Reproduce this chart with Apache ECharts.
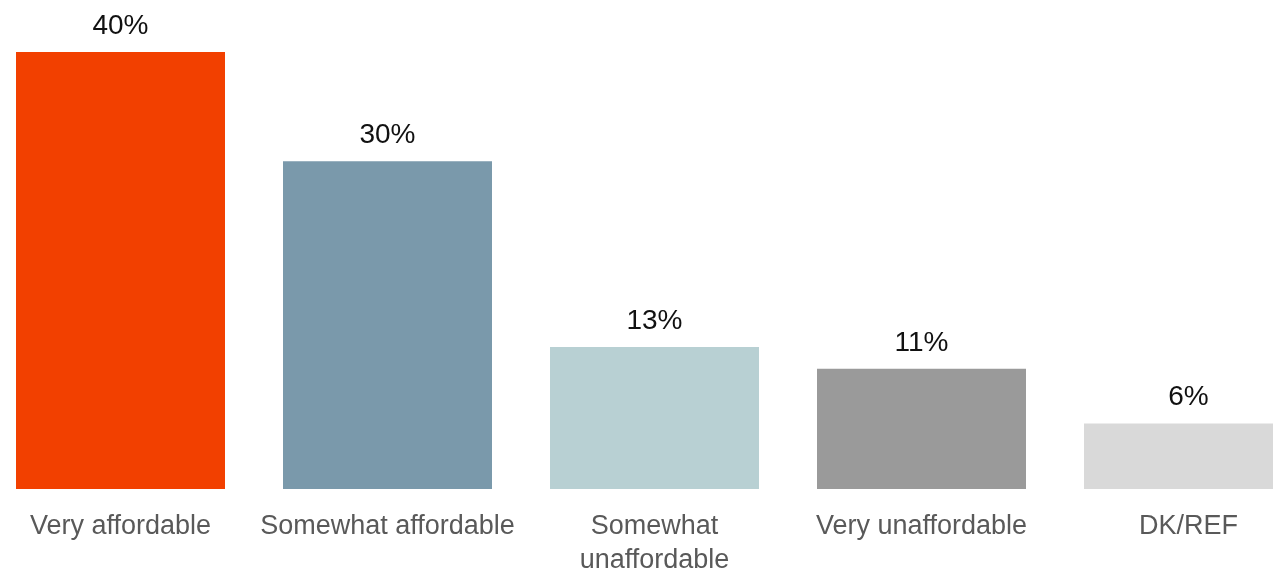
<!DOCTYPE html>
<html>
<head>
<meta charset="utf-8">
<script src="https://cdn.jsdelivr.net/npm/echarts@6/dist/echarts.min.js"></script>
<style>
html,body{margin:0;padding:0;background:#fff;}
#wrap{position:relative;width:1273px;height:572px;overflow:hidden;}
#chart{position:absolute;left:-13px;top:0;width:1335px;height:572px;}
</style>
</head>
<body>
<div id="wrap"><div id="chart"></div></div>
<script>
const categories = ['Very affordable', 'Somewhat affordable', 'Somewhat\nunaffordable', 'Very unaffordable', 'DK/REF'];
const values = [40, 30, 13, 11, 6];
const colors = ['#F24000', '#7A99AB', '#B8D0D3', '#9A9A9A', '#D9D9D9'];

const chart = echarts.init(document.getElementById('chart'), null, {renderer: 'canvas', width: 1335, height: 572});
chart.setOption({
  animation: false,
  grid: {left: 0, right: 0, top: 52, bottom: 83, containLabel: false, outerBoundsMode: 'none'},
  xAxis: {
    type: 'category',
    data: categories,
    axisLine: {show: false},
    axisTick: {show: false},
    axisLabel: {
      interval: 0,
      margin: 21,
      fontFamily: 'Liberation Sans',
      fontSize: 27,
      lineHeight: 34,
      color: '#595959'
    }
  },
  yAxis: {
    type: 'value',
    min: 0,
    max: 40,
    show: false,
    splitLine: {show: false}
  },
  series: [{
    type: 'bar',
    barWidth: 209,
    data: values.map((v, i) => ({value: v, itemStyle: {color: colors[i]}})),
    label: {
      show: true,
      position: 'top',
      distance: 12,
      formatter: '{c}%',
      fontFamily: 'Liberation Sans',
      fontSize: 28,
      color: '#111'
    }
  }]
});
</script>
</body>
</html>
